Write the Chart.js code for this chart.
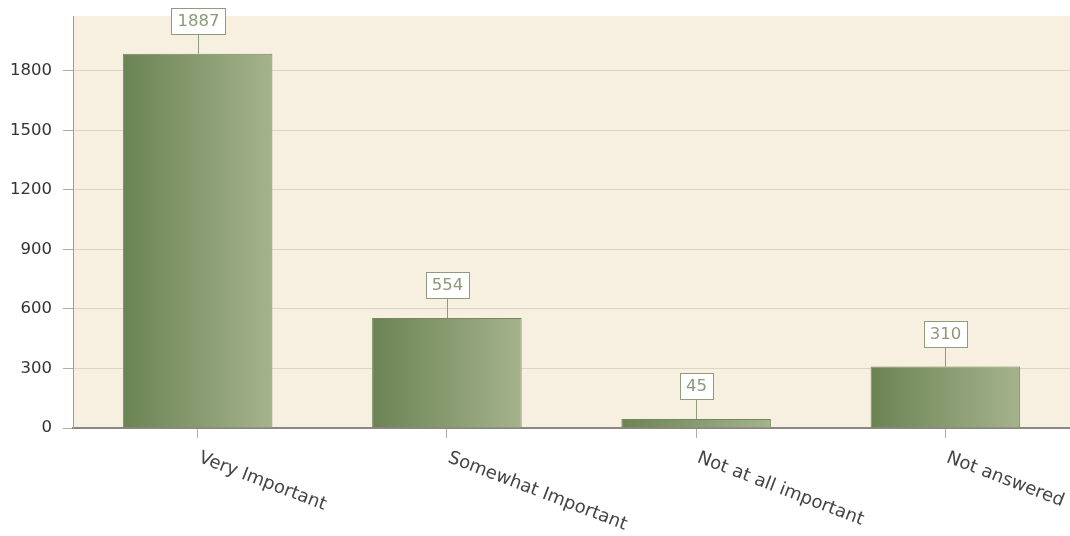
<!DOCTYPE html>
<html lang="en">
<head>
    <meta charset="UTF-8">
    <title>Importance</title>
    <style>
        html, body { margin: 0; padding: 0; background: #fff; }
        #wrap { width: 1070px; height: 536px; }
    </style>
</head>
<body>
<div id="wrap">
    <canvas id="myChart"></canvas>
</div>

<script src="https://cdn.jsdelivr.net/npm/chart.js"></script>

<script>
    // data
    const categories = ['Very Important', 'Somewhat Important', 'Not at all important', 'Not answered'];
    const counts = [1887, 554, 45, 310];
    const yTicks = [0, 300, 600, 900, 1200, 1500, 1800];
    const yMax = 2077;

    const FONT = "'DejaVu Sans', sans-serif";
    const FSIZE = 16.5;

    // left-to-right green gradient on each bar
    const barGradient = {
        id: 'barGradient',
        beforeDatasetsDraw(chart) {
            const c = chart.ctx;
            chart.getDatasetMeta(0).data.forEach(el => {
                const g = c.createLinearGradient(el.x - el.width / 2, 0, el.x + el.width / 2, 0);
                g.addColorStop(0, '#6b8353');
                g.addColorStop(1, '#a5b38d');
                el.options = Object.assign({}, el.options, { backgroundColor: g });
            });
        }
    };

    // boxed value labels with a stem down to the bar
    const valueBoxes = {
        id: 'valueBoxes',
        afterDatasetsDraw(chart) {
            const c = chart.ctx;
            c.save();
            c.font = FSIZE + 'px ' + FONT;
            chart.getDatasetMeta(0).data.forEach((el, i) => {
                const txt = String(counts[i]);
                const w = Math.round(c.measureText(txt).width + 12);
                const h = 26;
                const bottom = Math.round(el.y - 20);
                const x = Math.round(el.x);
                c.strokeStyle = '#8d9c7b';
                c.lineWidth = 1;
                c.beginPath();
                c.moveTo(x + 0.5, bottom);
                c.lineTo(x + 0.5, el.y);
                c.stroke();
                c.fillStyle = '#ffffff';
                c.fillRect(Math.round(x - w / 2) + 0.5, bottom - h + 0.5, w, h);
                c.strokeRect(Math.round(x - w / 2) + 0.5, bottom - h + 0.5, w, h);
                c.fillStyle = '#8a9a77';
                c.textAlign = 'center';
                c.textBaseline = 'middle';
                c.fillText(txt, x + 0.5, bottom - h / 2 + 1);
            });
            c.restore();
        }
    };

    // x labels slanted downwards to the right
    const slantLabels = {
        id: 'slantLabels',
        afterDraw(chart) {
            const c = chart.ctx;
            const xs = chart.scales.x;
            c.save();
            c.font = '18px ' + FONT;
            c.fillStyle = '#444444';
            c.textAlign = 'left';
            c.textBaseline = 'top';
            categories.forEach((lab, i) => {
                const px = xs.getPixelForTick(i);
                c.save();
                c.translate(px + 5, xs.top + 21);
                c.rotate(21 * Math.PI / 180);
                c.fillText(lab, 0, 0);
                c.restore();
            });
            c.restore();
        }
    };

    // plot background
    const plotBg = {
        id: 'plotBg',
        beforeDraw(chart) {
            const a = chart.chartArea;
            chart.ctx.save();
            chart.ctx.fillStyle = '#f7efe0';
            chart.ctx.fillRect(a.left, a.top, a.right - a.left, a.bottom - a.top);
            chart.ctx.restore();
        }
    };

    new Chart(document.getElementById('myChart'), {
        type: 'bar',
        data: {
            labels: categories,
            datasets: [{
                data: counts,
                borderWidth: 1,
                borderColor: '#74885f',
                backgroundColor: () => '#8a9c72',
                barPercentage: 0.6,
                categoryPercentage: 1
            }]
        },
        options: {
            responsive: true,
            maintainAspectRatio: false,
            animation: false,
            layout: { padding: { top: 16, right: 0, left: 0, bottom: 0 } },
            scales: {
                x: {
                    afterFit(s) { s.height = 108; s.paddingLeft = 0; s.paddingRight = 0; },
                    grid: {
                        display: true,
                        drawOnChartArea: false,
                        tickLength: 10,
                        tickColor: '#b0aca4',
                        offset: false
                    },
                    border: { color: '#8c8880', width: 2 },
                    ticks: { display: false }
                },
                y: {
                    min: 0,
                    max: yMax,
                    afterFit(s) { s.width = 73; s.paddingTop = 0; s.paddingBottom = 0; },
                    afterBuildTicks(s) { s.ticks = yTicks.map(v => ({ value: v })); },
                    grid: {
                        color: '#ddd4c2',
                        tickColor: '#b0aca4',
                        tickLength: 10
                    },
                    border: { color: '#a09c94', width: 1 },
                    ticks: {
                        padding: 11,
                        color: '#333333',
                        font: { family: FONT, size: FSIZE },
                        callback: v => String(v)
                    }
                }
            },
            plugins: {
                legend: { display: false },
                tooltip: { enabled: false },
                title: { display: false }
            }
        },
        plugins: [plotBg, barGradient, valueBoxes, slantLabels]
    });
</script>
</body>
</html>
